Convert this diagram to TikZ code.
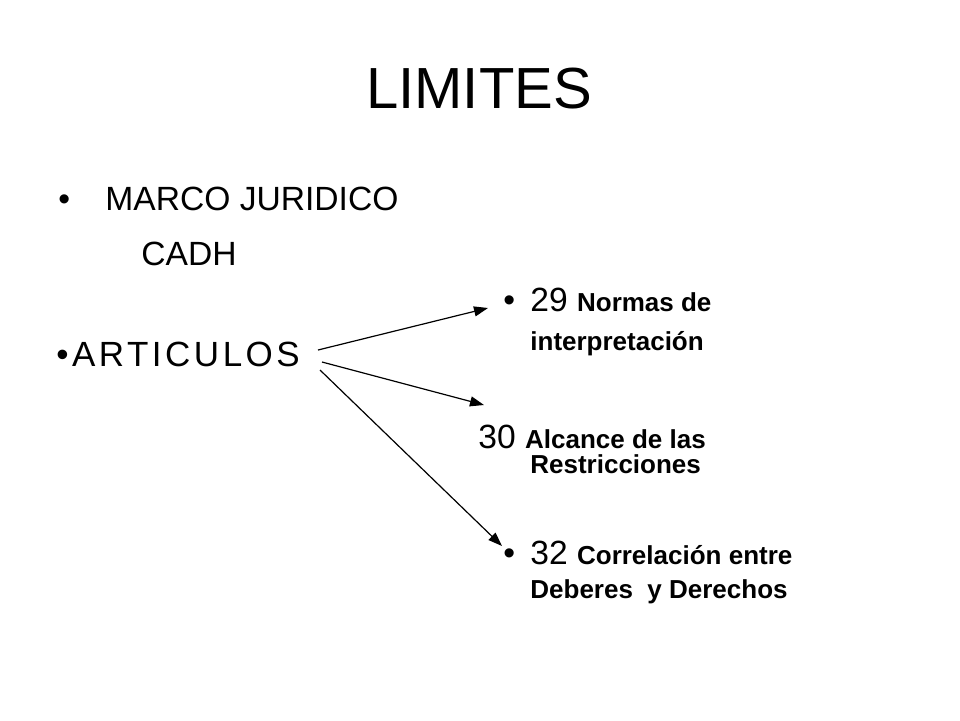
\documentclass[tikz,border=0pt]{standalone}
\usepackage{fontspec}
\setmainfont{Liberation Sans}
\usetikzlibrary{arrows.meta}
\newcommand{\smalltxt}{\fontsize{13}{15}\selectfont\bfseries}
\begin{document}
\begin{tikzpicture}[x=0.5pt,y=-0.5pt,
    big/.style={anchor=base west,inner sep=0pt,font=\fontsize{16.8}{20}\selectfont},
    small/.style={anchor=base west,inner sep=0pt,font=\smalltxt},
    link/.style={-{Triangle[length=7pt,width=5pt]},line width=0.6pt}
]
\useasboundingbox (0,0) rectangle (960,720);
\node[anchor=base,inner sep=0pt,font=\fontsize{29}{33}\selectfont] (title) at (479,108) {LIMITES};

\node[big] (b1) at (58,210) {•};
\node[big] (marco) at (105,210) {MARCO JURIDICO};
\node[big] (cadh) at (141,265) {CADH};
\node[big,font=\fontsize{17.5}{20}\selectfont\addfontfeature{LetterSpace=10}] (art) at (56,366) {•ARTICULOS};

\node[big] (b2) at (503,311) {•};
\node[big] (n29) at (530,311) {29 \smalltxt Normas de};
\node[small] (i29) at (530,350) {interpretación};
\node[big] (n30) at (478,448) {30 \smalltxt Alcance de las};
\node[small] (i30) at (530,473) {Restricciones};
\node[big] (b3) at (503,564) {•};
\node[big] (n32) at (530,564) {32 \smalltxt Correlación entre};
\node[small] (i32) at (530,598) {Deberes\ \ y Derechos};

\coordinate (s1) at (318,350);
\coordinate (s2) at (322,362);
\coordinate (s3) at (320,370);
\coordinate (e1) at (488,308);
\coordinate (e2) at (484,405);
\coordinate (e3) at (502,546);
\draw[link] (s1) -- (e1);
\draw[link] (s2) -- (e2);
\draw[link] (s3) -- (e3);
\end{tikzpicture}
\end{document}
